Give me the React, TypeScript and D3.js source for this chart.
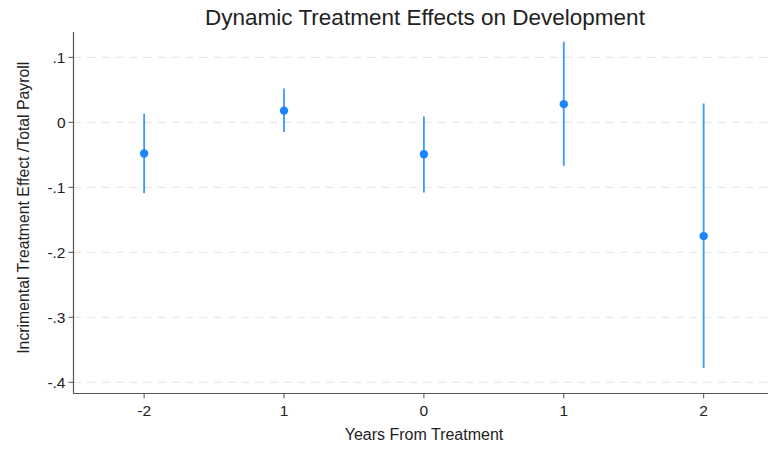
import React from "react";
import * as d3 from "d3";

const categories = ["-2", "1", "0", "1", "2"];
const estimates = [-0.048, 0.018, -0.049, 0.028, -0.175];
const ciLower = [-0.109, -0.015, -0.108, -0.067, -0.378];
const ciUpper = [0.013, 0.052, 0.009, 0.124, 0.029];
const yTicks = [0.1, 0, -0.1, -0.2, -0.3, -0.4];
const yTickLabels = [".1", "0", "-.1", "-.2", "-.3", "-.4"];

const W = 769;
const H = 449;
const left = 73.5;
const right = 768;
const top = 32;
const bottom = 393.5;

export default function App() {
  const x = d3.scaleLinear().domain([-0.505, 4.46]).range([left, right]);
  const y = d3.scaleLinear().domain([-0.4172, 0.139]).range([bottom, top]);
  const font = "'Liberation Sans', Arial, sans-serif";
  const axisColor = "#555";
  const blue = "#1a85ff";
  return (
    <svg
      width={W}
      height={H}
      style={{ position: "absolute", left: 0, top: 0, background: "#fff" }}
      fontFamily={font}
    >
      <rect x={0} y={0} width={W} height={H} fill="#fff" />
      {yTicks.map((t, i) => (
        <line
          key={"g" + i}
          x1={left}
          x2={right}
          y1={y(t)}
          y2={y(t)}
          stroke="#e4e4e4"
          strokeWidth={1}
          strokeDasharray="8,6"
        />
      ))}
      {categories.map((c, i) => (
        <g key={"p" + i}>
          <line
            x1={x(i)}
            x2={x(i)}
            y1={y(ciLower[i])}
            y2={y(ciUpper[i])}
            stroke={blue}
            strokeOpacity={0.85}
            strokeWidth={1.8}
          />
          <circle cx={x(i)} cy={y(estimates[i])} r={4.2} fill={blue} />
        </g>
      ))}
      <line x1={left} x2={left} y1={top} y2={bottom} stroke={axisColor} strokeWidth={1.2} />
      <line x1={left} x2={right} y1={bottom} y2={bottom} stroke={axisColor} strokeWidth={1.2} />
      {yTicks.map((t, i) => (
        <g key={"yt" + i}>
          <line x1={left - 5} x2={left} y1={y(t)} y2={y(t)} stroke={axisColor} strokeWidth={1} />
          <text
            x={left - 8}
            y={y(t)}
            dy="0.36em"
            textAnchor="end"
            fontSize={15.5}
            fill="#222"
          >
            {yTickLabels[i]}
          </text>
        </g>
      ))}
      {categories.map((c, i) => (
        <g key={"xt" + i}>
          <line x1={x(i)} x2={x(i)} y1={bottom} y2={bottom + 5} stroke={axisColor} strokeWidth={1} />
          <text x={x(i)} y={bottom + 22} textAnchor="middle" fontSize={15.5} fill="#222">
            {c}
          </text>
        </g>
      ))}
      <text x={424} y={440} textAnchor="middle" fontSize={16} fill="#222">
        Years From Treatment
      </text>
      <text
        transform={`translate(29,${(top + bottom) / 2 - 5}) rotate(-90)`}
        textAnchor="middle"
        fontSize={15.8}
        fill="#222"
      >
        Incrimental Treatment Effect /Total Payroll
      </text>
      <text x={425} y={25} textAnchor="middle" fontSize={22.5} fill="#222">
        Dynamic Treatment Effects on Development
      </text>
    </svg>
  );
}
